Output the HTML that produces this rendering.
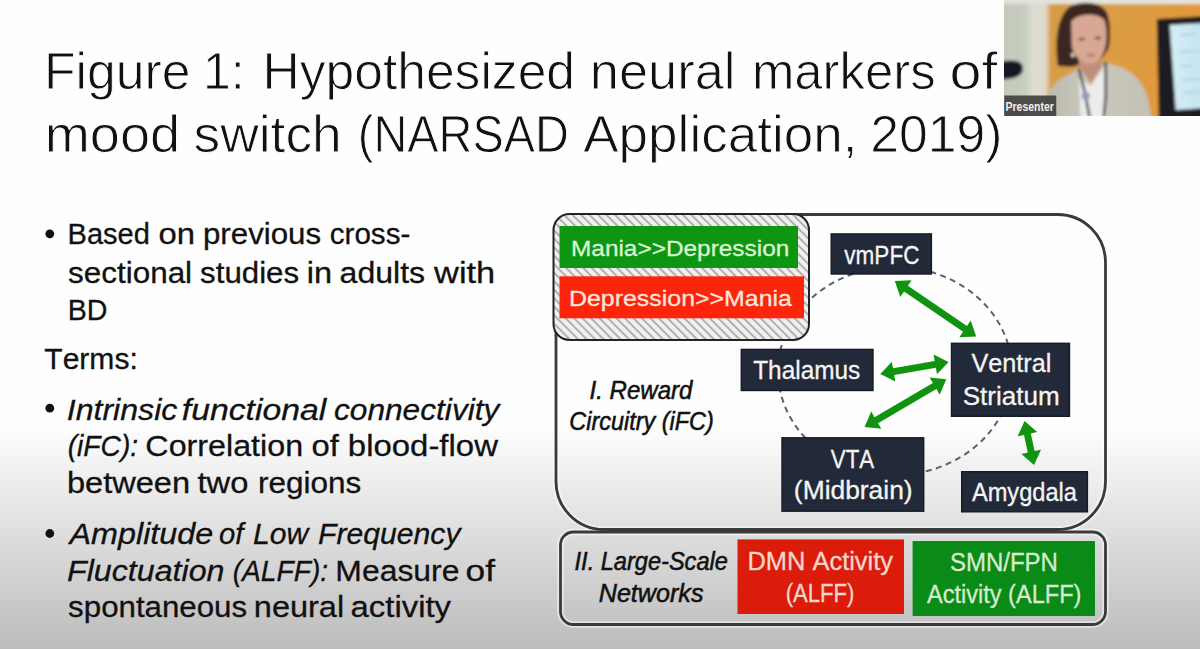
<!DOCTYPE html>
<html><head><meta charset="utf-8"><style>
html,body{margin:0;padding:0;}
body{width:1200px;height:649px;overflow:hidden;position:relative;
background:linear-gradient(180deg,#fefefe 0,#fefefe 425px,#bcbcbc 649px);
font-family:"Liberation Sans",sans-serif;}
svg{position:absolute;left:0;top:0;}
svg text{font-family:"Liberation Sans",sans-serif;font-kerning:none;font-variant-ligatures:none;}
</style></head><body>
<svg width="1200" height="649" viewBox="0 0 1200 649">
<rect x="556" y="214.5" width="549.5" height="315" rx="48" ry="48" fill="none" stroke="#fff" stroke-opacity="0.5" stroke-width="6.5"/>
<rect x="560.5" y="532" width="545" height="92.5" rx="13" ry="13" fill="none" stroke="#fff" stroke-opacity="0.5" stroke-width="6.5"/>
<rect x="556" y="214.5" width="549.5" height="315" rx="48" ry="48" fill="none" stroke="#3a3a3a" stroke-width="2.8"/>
<rect x="560.5" y="532" width="545" height="92.5" rx="13" ry="13" fill="none" stroke="#3a3a3a" stroke-width="2.8"/>
<ellipse cx="895" cy="371" rx="117" ry="104" fill="none" stroke="#5b6070" stroke-width="2" stroke-dasharray="6 4.5"/>
<defs><pattern id="hatch" width="6" height="6" patternUnits="userSpaceOnUse" patternTransform="rotate(-45)"><rect width="6" height="6" fill="#f0f0f0"/><rect width="1.8" height="6" fill="#aaaaaa"/></pattern></defs>
<rect x="553.5" y="214" width="255.5" height="126" rx="16" ry="16" fill="url(#hatch)" stroke="#222" stroke-width="2"/>
<rect x="559.5" y="226" width="238.5" height="42" fill="#0e9612"/>
<rect x="559.5" y="276.3" width="244.5" height="42" fill="#fc240a"/>
<rect x="831.2" y="233.9" width="100.2" height="40.1" fill="#222938" stroke="#161b26" stroke-width="1.4"/>
<rect x="741.3" y="349.4" width="131.7" height="41.1" fill="#222938" stroke="#161b26" stroke-width="1.4"/>
<rect x="951.5" y="343.3" width="118.0" height="73.0" fill="#222938" stroke="#161b26" stroke-width="1.4"/>
<rect x="782.0" y="437.8" width="141.7" height="73.4" fill="#222938" stroke="#161b26" stroke-width="1.4"/>
<rect x="961.7" y="471.7" width="125.7" height="40.1" fill="#222938" stroke="#161b26" stroke-width="1.4"/>
<rect x="737.5" y="539.4" width="166.5" height="74.6" fill="#dc1c0a"/>
<rect x="912.6" y="541" width="182.4" height="75" fill="#0a8a16"/>
<polygon points="894.8,281.0 900.3,296.9 904.0,291.5 963.1,331.8 959.4,337.2 976.2,336.5 970.7,320.6 967.0,326.0 907.9,285.7 911.6,280.3" fill="#10940f"/>
<polygon points="880.3,374.0 895.3,381.5 894.2,375.1 935.9,367.8 937.0,374.2 948.6,362.0 933.6,354.5 934.7,360.9 893.0,368.2 891.9,361.8" fill="#10940f"/>
<polygon points="864.6,427.0 881.3,428.8 878.0,423.2 936.4,389.1 939.7,394.7 946.3,379.3 929.6,377.5 932.9,383.1 874.5,417.2 871.2,411.6" fill="#10940f"/>
<polygon points="1024.6,421.0 1017.6,436.3 1024.0,434.9 1027.8,452.5 1021.4,453.9 1034.0,465.0 1041.0,449.7 1034.6,451.1 1030.8,433.5 1037.2,432.1" fill="#10940f"/>
<text x="44.06" y="89.30" font-size="51.50" textLength="146.54" lengthAdjust="spacingAndGlyphs" fill="#111" style="" stroke="#fff" stroke-width="0.9">Figure</text>
<text x="202.89" y="89.30" font-size="51.50" textLength="41.67" lengthAdjust="spacingAndGlyphs" fill="#111" style="" stroke="#fff" stroke-width="0.9">1:</text>
<text x="262.47" y="89.30" font-size="51.50" textLength="312.56" lengthAdjust="spacingAndGlyphs" fill="#111" style="" stroke="#fff" stroke-width="0.9">Hypothesized</text>
<text x="589.82" y="89.30" font-size="51.50" textLength="145.69" lengthAdjust="spacingAndGlyphs" fill="#111" style="" stroke="#fff" stroke-width="0.9">neural</text>
<text x="751.92" y="89.30" font-size="51.50" textLength="183.72" lengthAdjust="spacingAndGlyphs" fill="#111" style="" stroke="#fff" stroke-width="0.9">markers</text>
<text x="949.49" y="89.30" font-size="51.50" textLength="47.93" lengthAdjust="spacingAndGlyphs" fill="#111" style="" stroke="#fff" stroke-width="0.9">of</text>
<text x="44.70" y="151.50" font-size="51.50" textLength="135.49" lengthAdjust="spacingAndGlyphs" fill="#111" style="" stroke="#fff" stroke-width="0.9">mood</text>
<text x="193.51" y="151.50" font-size="51.50" textLength="148.25" lengthAdjust="spacingAndGlyphs" fill="#111" style="" stroke="#fff" stroke-width="0.9">switch</text>
<text x="357.79" y="151.50" font-size="51.50" textLength="211.15" lengthAdjust="spacingAndGlyphs" fill="#111" style="" stroke="#fff" stroke-width="0.9">(NARSAD</text>
<text x="583.20" y="151.50" font-size="51.50" textLength="274.37" lengthAdjust="spacingAndGlyphs" fill="#111" style="" stroke="#fff" stroke-width="0.9">Application,</text>
<text x="870.20" y="151.50" font-size="51.50" textLength="132.21" lengthAdjust="spacingAndGlyphs" fill="#111" style="" stroke="#fff" stroke-width="0.9">2019)</text>
<text x="67.62" y="244.20" font-size="29.30" textLength="82.25" lengthAdjust="spacingAndGlyphs" fill="#111" style="" stroke="#111" stroke-width="0.30">Based</text>
<text x="158.62" y="244.20" font-size="29.30" textLength="36.51" lengthAdjust="spacingAndGlyphs" fill="#111" style="" stroke="#111" stroke-width="0.30">on</text>
<text x="202.99" y="244.20" font-size="29.30" textLength="118.14" lengthAdjust="spacingAndGlyphs" fill="#111" style="" stroke="#111" stroke-width="0.30">previous</text>
<text x="329.74" y="244.20" font-size="29.30" textLength="80.57" lengthAdjust="spacingAndGlyphs" fill="#111" style="" stroke="#111" stroke-width="0.30">cross-</text>
<text x="68.13" y="282.50" font-size="29.30" textLength="123.98" lengthAdjust="spacingAndGlyphs" fill="#111" style="" stroke="#111" stroke-width="0.30">sectional</text>
<text x="200.13" y="282.50" font-size="29.30" textLength="99.00" lengthAdjust="spacingAndGlyphs" fill="#111" style="" stroke="#111" stroke-width="0.30">studies</text>
<text x="306.83" y="282.50" font-size="29.30" textLength="25.28" lengthAdjust="spacingAndGlyphs" fill="#111" style="" stroke="#111" stroke-width="0.30">in</text>
<text x="339.64" y="282.50" font-size="29.30" textLength="85.52" lengthAdjust="spacingAndGlyphs" fill="#111" style="" stroke="#111" stroke-width="0.30">adults</text>
<text x="434.05" y="282.50" font-size="29.30" textLength="61.18" lengthAdjust="spacingAndGlyphs" fill="#111" style="" stroke="#111" stroke-width="0.30">with</text>
<text x="67.65" y="319.50" font-size="29.30" textLength="39.71" lengthAdjust="spacingAndGlyphs" fill="#111" style="" stroke="#111" stroke-width="0.30">BD</text>
<text x="44.33" y="369.40" font-size="29.30" textLength="93.42" lengthAdjust="spacingAndGlyphs" fill="#111" style="" stroke="#111" stroke-width="0.30">Terms:</text>
<text x="66.73" y="419.60" font-size="29.30" textLength="110.63" lengthAdjust="spacingAndGlyphs" fill="#111" style="font-style:italic;" stroke="#111" stroke-width="0.30">Intrinsic</text>
<text x="181.86" y="419.60" font-size="29.30" textLength="144.38" lengthAdjust="spacingAndGlyphs" fill="#111" style="font-style:italic;" stroke="#111" stroke-width="0.30">functional</text>
<text x="333.96" y="419.60" font-size="29.30" textLength="165.44" lengthAdjust="spacingAndGlyphs" fill="#111" style="font-style:italic;" stroke="#111" stroke-width="0.30">connectivity</text>
<text x="67.68" y="456.20" font-size="29.30" textLength="70.45" lengthAdjust="spacingAndGlyphs" fill="#111" style="font-style:italic;" stroke="#111" stroke-width="0.30">(iFC):</text>
<text x="145.36" y="456.20" font-size="29.30" textLength="157.73" lengthAdjust="spacingAndGlyphs" fill="#111" style="" stroke="#111" stroke-width="0.30">Correlation</text>
<text x="311.62" y="456.20" font-size="29.30" textLength="27.33" lengthAdjust="spacingAndGlyphs" fill="#111" style="" stroke="#111" stroke-width="0.30">of</text>
<text x="347.88" y="456.20" font-size="29.30" textLength="150.04" lengthAdjust="spacingAndGlyphs" fill="#111" style="" stroke="#111" stroke-width="0.30">blood-flow</text>
<text x="66.90" y="492.70" font-size="29.30" textLength="123.22" lengthAdjust="spacingAndGlyphs" fill="#111" style="" stroke="#111" stroke-width="0.30">between</text>
<text x="197.51" y="492.70" font-size="29.30" textLength="50.87" lengthAdjust="spacingAndGlyphs" fill="#111" style="" stroke="#111" stroke-width="0.30">two</text>
<text x="257.91" y="492.70" font-size="29.30" textLength="103.23" lengthAdjust="spacingAndGlyphs" fill="#111" style="" stroke="#111" stroke-width="0.30">regions</text>
<text x="69.59" y="544.00" font-size="29.30" textLength="143.61" lengthAdjust="spacingAndGlyphs" fill="#111" style="font-style:italic;" stroke="#111" stroke-width="0.30">Amplitude</text>
<text x="219.04" y="544.00" font-size="29.30" textLength="24.43" lengthAdjust="spacingAndGlyphs" fill="#111" style="font-style:italic;" stroke="#111" stroke-width="0.30">of</text>
<text x="253.07" y="544.00" font-size="29.30" textLength="55.31" lengthAdjust="spacingAndGlyphs" fill="#111" style="font-style:italic;" stroke="#111" stroke-width="0.30">Low</text>
<text x="318.07" y="544.00" font-size="29.30" textLength="142.41" lengthAdjust="spacingAndGlyphs" fill="#111" style="font-style:italic;" stroke="#111" stroke-width="0.30">Frequency</text>
<text x="67.01" y="580.50" font-size="29.30" textLength="157.45" lengthAdjust="spacingAndGlyphs" fill="#111" style="font-style:italic;" stroke="#111" stroke-width="0.30">Fluctuation</text>
<text x="232.68" y="580.50" font-size="29.30" textLength="95.45" lengthAdjust="spacingAndGlyphs" fill="#111" style="font-style:italic;" stroke="#111" stroke-width="0.30">(ALFF):</text>
<text x="335.38" y="580.50" font-size="29.30" textLength="124.03" lengthAdjust="spacingAndGlyphs" fill="#111" style="" stroke="#111" stroke-width="0.30">Measure</text>
<text x="465.52" y="580.50" font-size="29.30" textLength="29.43" lengthAdjust="spacingAndGlyphs" fill="#111" style="" stroke="#111" stroke-width="0.30">of</text>
<text x="68.13" y="617.00" font-size="29.30" textLength="179.00" lengthAdjust="spacingAndGlyphs" fill="#111" style="" stroke="#111" stroke-width="0.30">spontaneous</text>
<text x="253.84" y="617.00" font-size="29.30" textLength="90.33" lengthAdjust="spacingAndGlyphs" fill="#111" style="" stroke="#111" stroke-width="0.30">neural</text>
<text x="350.60" y="617.00" font-size="29.30" textLength="100.46" lengthAdjust="spacingAndGlyphs" fill="#111" style="" stroke="#111" stroke-width="0.30">activity</text>
<circle cx="49.8" cy="233.8" r="4.4" fill="#111"/>
<circle cx="49.8" cy="408.2" r="4.4" fill="#111"/>
<circle cx="49.8" cy="533.5" r="4.4" fill="#111"/>
<text x="844.32" y="263.90" font-size="25.00" textLength="75.14" lengthAdjust="spacingAndGlyphs" fill="#f4f4f4" style="" stroke="#f4f4f4" stroke-width="0.30">vmPFC</text>
<text x="753.20" y="378.75" font-size="25.00" textLength="107.08" lengthAdjust="spacingAndGlyphs" fill="#f4f4f4" style="" stroke="#f4f4f4" stroke-width="0.30">Thalamus</text>
<text x="971.49" y="372.40" font-size="25.00" textLength="79.90" lengthAdjust="spacingAndGlyphs" fill="#f4f4f4" style="" stroke="#f4f4f4" stroke-width="0.30">Ventral</text>
<text x="962.72" y="404.70" font-size="25.00" textLength="96.90" lengthAdjust="spacingAndGlyphs" fill="#f4f4f4" style="" stroke="#f4f4f4" stroke-width="0.30">Striatum</text>
<text x="830.80" y="467.50" font-size="25.00" textLength="43.34" lengthAdjust="spacingAndGlyphs" fill="#f4f4f4" style="" stroke="#f4f4f4" stroke-width="0.30">VTA</text>
<text x="793.86" y="499.40" font-size="25.00" textLength="118.77" lengthAdjust="spacingAndGlyphs" fill="#f4f4f4" style="" stroke="#f4f4f4" stroke-width="0.30">(Midbrain)</text>
<text x="971.95" y="500.70" font-size="25.00" textLength="105.05" lengthAdjust="spacingAndGlyphs" fill="#f4f4f4" style="" stroke="#f4f4f4" stroke-width="0.30">Amygdala</text>
<text x="571.00" y="256.30" font-size="22.60" textLength="218.28" lengthAdjust="spacingAndGlyphs" fill="#d9f7d4" style="" stroke="#d9f7d4" stroke-width="0.30">Mania&gt;&gt;Depression</text>
<text x="568.96" y="306.20" font-size="22.60" textLength="223.04" lengthAdjust="spacingAndGlyphs" fill="#fde6dc" style="" stroke="#fde6dc" stroke-width="0.30">Depression&gt;&gt;Mania</text>
<text x="589.55" y="399.00" font-size="25.00" textLength="102.92" lengthAdjust="spacingAndGlyphs" fill="#111" style="font-style:italic;" stroke="#111" stroke-width="0.55">I. Reward</text>
<text x="569.31" y="429.50" font-size="25.00" textLength="144.39" lengthAdjust="spacingAndGlyphs" fill="#111" style="font-style:italic;" stroke="#111" stroke-width="0.55">Circuitry (iFC)</text>
<text x="574.57" y="570.00" font-size="25.00" textLength="153.31" lengthAdjust="spacingAndGlyphs" fill="#111" style="font-style:italic;" stroke="#111" stroke-width="0.55">II. Large-Scale</text>
<text x="598.73" y="601.50" font-size="25.00" textLength="104.79" lengthAdjust="spacingAndGlyphs" fill="#111" style="font-style:italic;" stroke="#111" stroke-width="0.55">Networks</text>
<text x="747.41" y="570.00" font-size="25.00" textLength="145.64" lengthAdjust="spacingAndGlyphs" fill="#f3d6cc" style="" stroke="#f3d6cc" stroke-width="0.30">DMN Activity</text>
<text x="785.63" y="601.50" font-size="25.00" textLength="68.74" lengthAdjust="spacingAndGlyphs" fill="#f3d6cc" style="" stroke="#f3d6cc" stroke-width="0.30">(ALFF)</text>
<text x="949.91" y="571.40" font-size="25.00" textLength="108.05" lengthAdjust="spacingAndGlyphs" fill="#d6ecd0" style="" stroke="#d6ecd0" stroke-width="0.30">SMN/FPN</text>
<text x="926.95" y="602.60" font-size="25.00" textLength="154.51" lengthAdjust="spacingAndGlyphs" fill="#d6ecd0" style="" stroke="#d6ecd0" stroke-width="0.30">Activity (ALFF)</text>
</svg>
<svg id="camsvg" width="197" height="116" viewBox="1003.5 0 196.5 116" style="position:absolute;left:1003.5px;top:0">
<defs>
<filter id="bl" x="-5%" y="-5%" width="110%" height="110%"><feGaussianBlur stdDeviation="1.6"/></filter>
<linearGradient id="orange" x1="0" y1="0" x2="1" y2="0.3">
 <stop offset="0" stop-color="#d39a45"/><stop offset="0.5" stop-color="#d99d45"/><stop offset="1" stop-color="#e4983a"/></linearGradient>
<linearGradient id="lwall" x1="0" y1="0" x2="1" y2="0">
 <stop offset="0" stop-color="#c1c8ba"/><stop offset="0.5" stop-color="#c8cdc0"/><stop offset="0.62" stop-color="#dadbd0"/><stop offset="0.9" stop-color="#e2ddcc"/><stop offset="1" stop-color="#d8b078"/></linearGradient>
<linearGradient id="blazer" x1="0" y1="0" x2="1" y2="0">
 <stop offset="0" stop-color="#bab8ad"/><stop offset="0.45" stop-color="#cbc8bd"/><stop offset="1" stop-color="#c3c0b4"/></linearGradient>
<linearGradient id="screen" x1="0" y1="0" x2="1" y2="0">
 <stop offset="0" stop-color="#d4eef6"/><stop offset="1" stop-color="#c4e2ee"/></linearGradient>
</defs>
<g filter="url(#bl)">
<rect x="1000" y="-3" width="205" height="125" fill="url(#orange)"/>
<rect x="1000" y="-3" width="49" height="125" fill="url(#lwall)"/>
<rect x="1000" y="-3" width="205" height="7" fill="#e4e2dc"/>
<polygon points="1156,19 1205,16 1205,120 1158,120" fill="#1a1c21"/>
<polygon points="1169,25 1205,23 1205,108 1175,110" fill="url(#screen)"/>
<g stroke="#9cc0d8" stroke-width="1.2"><line x1="1180" y1="35" x2="1196" y2="34"/><line x1="1178" y1="52" x2="1198" y2="51"/><line x1="1180" y1="66" x2="1192" y2="66"/><line x1="1181" y1="80" x2="1199" y2="79"/><line x1="1182" y1="93" x2="1198" y2="92"/></g>
<path d="M1057,66 C1054,45 1055,16 1070,6 C1083,0 1100,2 1106,12 C1110,22 1110,38 1108,48 L1100,60 L1070,67 Z" fill="#3a2822"/>
<rect x="1078" y="56" width="23" height="24" fill="#bf8f7c"/>
<path d="M1070.5,22 C1075,13 1099,12 1104,21 C1107,33 1106,46 1102,54 C1098,61 1093,64 1089,64 C1080,63 1073,56 1071,46 Z" fill="#d8a894"/>
<ellipse cx="1081" cy="39" rx="3.5" ry="1.6" fill="#7a554a"/>
<ellipse cx="1097" cy="38" rx="3.5" ry="1.6" fill="#7a554a"/>
<ellipse cx="1090" cy="55" rx="4.5" ry="1.3" fill="#a86e60"/>
<ellipse cx="1072" cy="55" rx="1.6" ry="2.2" fill="#e8e4dc"/>
<path d="M1041,120 C1043,100 1049,86 1060,79 L1079,68 L1090,84 L1104,62 L1122,68 C1135,74 1143,84 1147,98 L1151,120 Z" fill="url(#blazer)"/>
<path d="M1078,78 L1090,86 L1104,66 L1106,120 L1080,120 Z" fill="#edeceb"/>
<path d="M1078,69 L1084,92 L1089,118" stroke="#1c1c1c" stroke-width="2.4" fill="none"/>
<path d="M1105,62 L1105,96 L1103,118" stroke="#1c1c1c" stroke-width="2.4" fill="none"/>
<ellipse cx="1085" cy="96" rx="4" ry="4" fill="#8e96c4"/>
<path d="M998,61 L1011,60.5 C1020,60.5 1023,65 1022,70 C1021,77 1013,79 998,80 Z" fill="#141726"/>
</g>
<rect x="1003.5" y="95.5" width="52" height="20.5" fill="#3e3e3b" fill-opacity="0.9"/>
<text x="1004.80" y="111.00" font-size="12.00" textLength="48.36" lengthAdjust="spacingAndGlyphs" fill="#f0f0f0" style="font-weight:bold;" >Presenter</text>
</svg>
</body></html>
